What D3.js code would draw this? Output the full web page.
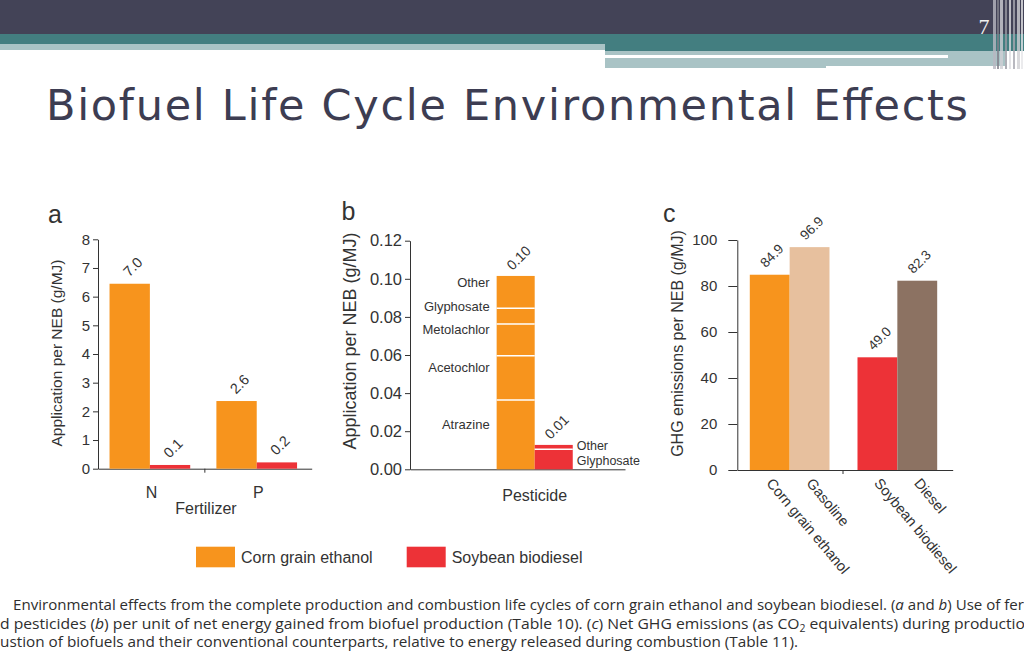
<!DOCTYPE html>
<html><head><meta charset="utf-8">
<script src="https://cdn.jsdelivr.net/npm/d3@7"></script>
<style>html,body{margin:0;padding:0;background:#fff;overflow:hidden}</style>
</head><body><svg id="c" width="1024" height="665"></svg>
<script>
// ---------- data ----------
const seriesNames = ["Corn grain ethanol", "Soybean biodiesel"];

const fertCategories = ["N", "P"];
const fertCorn = [6.45, 2.36];
const fertSoy = [0.13, 0.22];
const fertCornLabels = ["7.0", "2.6"];
const fertSoyLabels = ["0.1", "0.2"];
const fertTicks = [0, 1, 2, 3, 4, 5, 6, 7, 8];

const pestCategory = ["Pesticide"];
const pestCornNames = ["Atrazine", "Acetochlor", "Metolachlor", "Glyphosate", "Other"];
const pestCornValues = [0.0364, 0.0232, 0.0167, 0.0082, 0.0170];
const pestSoyNames = ["Glyphosate", "Other"];
const pestSoyValues = [0.0105, 0.0023];
const pestTotalLabels = ["0.10", "0.01"];
const pestTicks = [0, 0.02, 0.04, 0.06, 0.08, 0.10, 0.12];

const ghgCategories = ["Corn grain ethanol", "Gasoline", "Soybean biodiesel", "Diesel"];
const ghgGroups = ["Ethanol", "Ethanol", "Biodiesel", "Biodiesel"];
const ghgSlots = ["bio", "fossil", "bio", "fossil"];
const ghgValues = [84.9, 96.9, 49.0, 82.3];
const ghgLabels = ["84.9", "96.9", "49.0", "82.3"];
const ghgTicks = [0, 20, 40, 60, 80, 100];

const captionLines = [
  "Environmental effects from the complete production and combustion life cycles of corn grain ethanol and soybean biodiesel. (|a| and |b|) Use of fer",
  "d pesticides (|b|) per unit of net energy gained from biofuel production (Table 10). (|c|) Net GHG emissions (as CO_2_ equivalents) during productio",
  "ustion of biofuels and their conventional counterparts, relative to energy released during combustion (Table 11)."
];

// ---------- styles ----------
const ORANGE = "#f7941d", RED = "#ed3237", TAN = "#e7c09e", BROWN = "#8c7262";
const seriesColor = {"Corn grain ethanol": ORANGE, "Soybean biodiesel": RED};
const ghgColor = {"Corn grain ethanol": ORANGE, "Gasoline": TAN, "Soybean biodiesel": RED, "Diesel": BROWN};
const FONT = "'Liberation Sans', Arial, Helvetica, sans-serif";
const TXT = "#333333";

const svg = d3.select("#c");

// ---------- slide header ----------
const hdr = svg.append("g");
hdr.append("rect").attr("x", 0).attr("y", 0).attr("width", 1024).attr("height", 34).attr("fill", "#434357");
hdr.append("rect").attr("x", 0).attr("y", 34).attr("width", 1024).attr("height", 10).attr("fill", "#437e80");
hdr.append("rect").attr("x", 0).attr("y", 44).attr("width", 605).attr("height", 6).attr("fill", "#a9c3c5");
hdr.append("rect").attr("x", 605).attr("y", 44).attr("width", 419).attr("height", 7).attr("fill", "#437e80");
hdr.append("rect").attr("x", 605).attr("y", 51).attr("width", 400).attr("height", 4).attr("fill", "#a9c3c5");
hdr.append("rect").attr("x", 948).attr("y", 55).attr("width", 57).attr("height", 3).attr("fill", "#a9c3c5");
hdr.append("rect").attr("x", 605).attr("y", 58).attr("width", 221).attr("height", 10).attr("fill", "#a9c3c5");
hdr.append("rect").attr("x", 826).attr("y", 58).attr("width", 179).attr("height", 8).attr("fill", "#a9c3c5");
const stripes = [[993, 3, "#b8b8c0", 0.8], [997, 2, "#80808a", 0.8], [1000, 3, "#d0d0d4", 0.8], [1005, 2, "#9a9aa2", 0.8],
  [1009, 2, "#dcdce0", 0.8], [1013, 2, "#a8a8b0", 0.8], [1017, 3, "#cfcfd3", 0.8], [1021, 2, "#e6e6e8", 0.8]];
stripes.forEach(s => hdr.append("rect").attr("x", s[0]).attr("y", 0).attr("width", s[1]).attr("height", 69)
  .attr("fill", s[2]).attr("opacity", s[3]));
hdr.append("text").attr("x", 984).attr("y", 34).attr("text-anchor", "middle")
  .style("font-family", "'Liberation Serif', 'DejaVu Serif', serif").style("font-size", "22px")
  .attr("fill", "#f2f2f2").text("7");

svg.append("text").attr("x", 46).attr("y", 120).attr("textLength", 922).attr("lengthAdjust", "spacing")
  .style("font-family", "'DejaVu Sans', 'Noto Sans', sans-serif").style("font-size", "43px")
  .attr("fill", "#3d3d52").text("Biofuel Life Cycle Environmental Effects");

function styleAxis(g, size) {
  g.selectAll("path,line").attr("stroke", "#333").attr("stroke-width", 1);
  g.selectAll("text").attr("fill", TXT).style("font-family", FONT).style("font-size", size + "px");
}
function addText(g, x, y, str, size, anchor, rot) {
  const t = g.append("text").attr("transform", `translate(${x},${y})` + (rot ? ` rotate(${rot})` : ""))
    .attr("text-anchor", anchor || "start").style("font-family", FONT).style("font-size", size + "px")
    .attr("fill", TXT).text(str);
  return t;
}

// ---------- panel a ----------
const ga = svg.append("g");
const ya = d3.scaleLinear().domain([0, 8]).range([468.7, 239.3]);
const xa0 = d3.scaleBand().domain(fertCategories).range([98, 311.7]);
const xa1 = d3.scaleBand().domain(seriesNames).range([xa0.bandwidth() * 0.108, xa0.bandwidth() * 0.863]);
ga.append("g").attr("transform", "translate(98,0)")
  .call(d3.axisLeft(ya).tickValues(fertTicks).tickFormat(d3.format("d")).tickSize(5).tickSizeOuter(0).tickPadding(3))
  .call(styleAxis, 15);
ga.append("g").attr("transform", `translate(0,${ya(0)})`)
  .call(d3.axisBottom(xa0).tickSize(0).tickSizeOuter(0).tickPadding(18))
  .call(styleAxis, 16);
ga.append("line").attr("x1", xa0("P")).attr("x2", xa0("P")).attr("y1", ya(0)).attr("y2", ya(0) + 4).attr("stroke", "#333");
const fertRows = [];
fertCategories.forEach((c, i) => {
  fertRows.push({cat: c, s: seriesNames[0], v: fertCorn[i], lab: fertCornLabels[i]});
  fertRows.push({cat: c, s: seriesNames[1], v: fertSoy[i], lab: fertSoyLabels[i]});
});
ga.selectAll("rect.bar").data(fertRows).enter().append("rect").attr("class", "bar")
  .attr("x", d => xa0(d.cat) + xa1(d.s)).attr("width", xa1.bandwidth())
  .attr("y", d => ya(d.v)).attr("height", d => ya(0) - ya(d.v)).attr("fill", d => seriesColor[d.s]);
fertRows.forEach(d => {
  const cx = xa0(d.cat) + xa1(d.s) + xa1.bandwidth() / 2;
  addText(ga, cx + 3, ya(d.v) - 17, d.lab, 14.5, "middle", -45).attr("dy", "0.35em");
});
addText(ga, 57, 353, "Application per NEB (g/MJ)", 15.5, "middle", -90).attr("dy", "0.32em");
addText(ga, 206, 513.5, "Fertilizer", 16, "middle");
addText(ga, 48, 223, "a", 25, "start");

// ---------- panel b ----------
const gb = svg.append("g");
const yb = d3.scaleLinear().domain([0, 0.12]).range([469.3, 240.7]);
const xb0 = d3.scaleBand().domain(pestCategory).range([410, 625]);
const xb1 = d3.scaleBand().domain(seriesNames).range([xb0.bandwidth() * 0.403, xb0.bandwidth() * 0.757]);
gb.append("g").attr("transform", "translate(410,0)")
  .call(d3.axisLeft(yb).tickValues(pestTicks).tickFormat(d3.format(".2f")).tickSize(5).tickSizeOuter(0).tickPadding(3))
  .call(styleAxis, 16.5);
gb.append("g").attr("transform", `translate(0,${yb(0)})`)
  .call(d3.axisBottom(xb0).tickSize(0).tickSizeOuter(0).tickFormat(""))
  .call(styleAxis, 16);
function stackSegs(names, values) {
  let acc = 0;
  return names.map((n, i) => { const s = {name: n, y0: acc, y1: acc + values[i]}; acc += values[i]; return s; });
}
const pestStacks = [
  {s: seriesNames[0], segs: stackSegs(pestCornNames, pestCornValues), lab: pestTotalLabels[0]},
  {s: seriesNames[1], segs: stackSegs(pestSoyNames, pestSoyValues), lab: pestTotalLabels[1]}
];
pestStacks.forEach((st, k) => {
  const x = xb0("Pesticide") + xb1(st.s), w = xb1.bandwidth();
  gb.selectAll(null).data(st.segs).enter().append("rect")
    .attr("x", x).attr("width", w).attr("y", d => yb(d.y1)).attr("height", d => yb(d.y0) - yb(d.y1))
    .attr("fill", seriesColor[st.s]);
  st.segs.slice(1).forEach(d => {
    gb.append("line").attr("x1", x).attr("x2", x + w).attr("y1", yb(d.y0)).attr("y2", yb(d.y0))
      .attr("stroke", "#fff").attr("stroke-width", 1.5);
  });
  const top = st.segs[st.segs.length - 1].y1;
  addText(gb, x + w / 2 + 3, yb(top) - 18, st.lab, 14, "middle", -45).attr("dy", "0.35em");
  st.segs.forEach((d, j) => {
    const ym = (yb(d.y0) + yb(d.y1)) / 2;
    if (k === 0) addText(gb, x - 7, ym - 10, d.name, 13, "end").attr("dy", "0.35em");
    else addText(gb, x + w + 4, ym + (j === 0 ? 1.5 : -1.5), d.name, 12.5, "start").attr("dy", "0.35em");
  });
});
addText(gb, 350, 341, "Application per NEB (g/MJ)", 18, "middle", -90).attr("dy", "0.32em");
addText(gb, xb0("Pesticide") + (xb1.range()[0] + xb1.range()[1]) / 2, 501, "Pesticide", 16, "middle");
addText(gb, 341.5, 220, "b", 25, "start");

// ---------- panel c ----------
const gc = svg.append("g");
const yc = d3.scaleLinear().domain([0, 100]).range([470, 240]);
const xc0 = d3.scaleBand().domain(["Ethanol", "Biodiesel"]).range([737.3, 952.7]);
const xc1 = d3.scaleBand().domain(["bio", "fossil"]).range([xc0.bandwidth() * 0.116, xc0.bandwidth() * 0.856]);
gc.append("g").attr("transform", "translate(737.3,0)")
  .call(d3.axisLeft(yc).tickValues(ghgTicks).tickSize(9).tickSizeOuter(0).tickPadding(11))
  .call(styleAxis, 15);
gc.append("g").attr("transform", `translate(0,${yc(0)})`)
  .call(d3.axisBottom(xc0).tickSize(0).tickSizeOuter(0).tickFormat(""))
  .call(styleAxis, 15);
gc.append("line").attr("x1", xc0("Biodiesel") - 2).attr("x2", xc0("Biodiesel") - 2).attr("y1", yc(0)).attr("y2", yc(0) + 4).attr("stroke", "#333");
const ghgRows = ghgCategories.map((c, i) => ({c: c, g: ghgGroups[i], slot: ghgSlots[i], v: ghgValues[i], lab: ghgLabels[i]}));
gc.selectAll("rect.bar").data(ghgRows).enter().append("rect").attr("class", "bar")
  .attr("x", d => xc0(d.g) + xc1(d.slot)).attr("width", xc1.bandwidth())
  .attr("y", d => yc(d.v)).attr("height", d => yc(0) - yc(d.v)).attr("fill", d => ghgColor[d.c]);
ghgRows.forEach(d => {
  const cx = xc0(d.g) + xc1(d.slot) + xc1.bandwidth() / 2;
  addText(gc, cx + 2, yc(d.v) - 19, d.lab, 13.5, "middle", -45).attr("dy", "0.35em");
  addText(gc, cx + 4, 477, d.c, 14.5, "start", 50).attr("dy", "0.71em");
});
addText(gc, 677.5, 343.5, "GHG emissions per NEB (g/MJ)", 16, "middle", -90).attr("dy", "0.32em");
addText(gc, 663, 221.7, "c", 25, "start");

// ---------- legend ----------
const lg = svg.append("g");
seriesNames.forEach((s, i) => {
  const x = 196 + i * 210.7;
  lg.append("rect").attr("x", x).attr("y", 546.7).attr("width", 39).attr("height", 20.6).attr("fill", seriesColor[s]);
  addText(lg, x + 45, 563, s, 16, "start");
});

// ---------- caption ----------
const capPos = [[13, 610, 1011], [0, 628.5, 1025], [0, 647, 798]];
captionLines.forEach((line, i) => {
  const t = svg.append("text").attr("x", capPos[i][0]).attr("y", capPos[i][1])
    .attr("textLength", capPos[i][2]).attr("lengthAdjust", "spacingAndGlyphs")
    .style("font-family", "'Liberation Sans Narrow', 'Open Sans', sans-serif").style("font-size", "15px")
    .attr("fill", "#2e2e2e");
  // parse: |x| italic, _x_ subscript
  const parts = line.split(/(\|[^|]+\||_[^_]+_)/);
  parts.forEach(p => {
    if (!p) return;
    if (p[0] === "|") t.append("tspan").style("font-style", "italic").text(p.slice(1, -1));
    else if (p[0] === "_") t.append("tspan").attr("baseline-shift", "-25%").style("font-size", "10px").text(p.slice(1, -1));
    else t.append("tspan").text(p);
  });
});
</script></body></html>
